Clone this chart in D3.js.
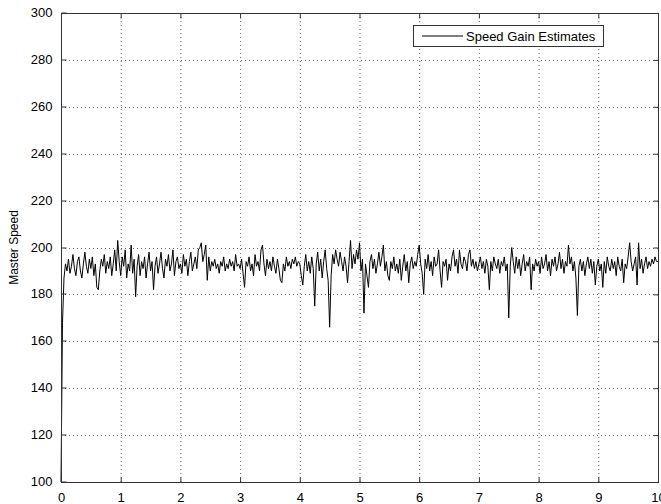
<!DOCTYPE html>
<html><head><meta charset="utf-8">
<script src="https://cdn.jsdelivr.net/npm/d3@7/dist/d3.min.js"></script>
<style>body{margin:0;background:#fff}svg{display:block}text{font-family:"Liberation Sans",Arial,sans-serif}</style>
</head><body><svg id="c" width="661" height="504"></svg>
<script>
const timeStep = 0.025;
const speedGain = [
100,168,187,193,190,195,189,192,197,191,188,194,196,190,187,193,198,192,189,195,
191,196,188,193,183,182,190,195,192,197,189,194,191,196,188,193,199,190,203,194,
188,196,192,199,187,193,190,201,189,195,179,192,197,188,194,191,196,187,193,198,
190,194,182,192,196,189,193,198,191,187,195,192,197,190,193,199,188,194,196,191,
193,189,197,192,195,188,194,198,190,193,196,191,199,200,202,194,197,201,186,196,
190,194,192,195,191,193,189,194,192,196,190,193,191,195,192,194,190,197,192,193,
191,195,189,183,194,192,196,190,193,188,197,192,194,190,199,201,193,188,195,191,
194,190,196,192,189,195,191,186,185,193,190,196,192,194,191,195,193,196,192,194,
193,188,184,192,197,190,194,189,196,191,175,193,198,190,195,187,194,199,191,186,
166,188,197,193,199,195,192,198,194,190,196,192,185,194,203,191,197,193,199,195,
202,190,195,172,193,188,183,194,197,191,195,189,193,198,192,196,201,190,194,188,
186,194,191,196,190,193,189,195,186,192,197,190,194,185,193,196,191,194,192,197,
201,193,189,180,195,191,197,190,194,188,196,192,193,199,190,183,194,192,195,186,
193,190,196,199,192,195,189,199,193,191,196,194,190,197,199,192,195,191,194,190,
193,196,191,194,189,195,192,182,194,190,196,193,191,195,189,194,192,196,190,193,
170,192,200,194,189,196,191,195,188,193,197,190,194,192,196,182,193,190,195,192,
194,189,196,191,193,197,190,194,188,195,192,196,190,193,198,191,195,189,194,192,
201,193,196,190,194,187,171,192,195,190,194,188,193,196,191,195,189,194,184,192,
195,190,193,183,194,189,196,192,190,195,191,194,188,196,192,190,195,185,193,191,
196,202,194,190,193,196,184,202,191,195,189,193,196,191,194,192,195,193,196,194,
194];
const xTicks = [0,1,2,3,4,5,6,7,8,9,10];
const yTicks = [100,120,140,160,180,200,220,240,260,280,300];
const seriesName = "Speed Gain Estimates";
const yLabel = "Master Speed";

const svg = d3.select("#c");
const L = 61, R = 658, T = 13, B = 482;
const x = d3.scaleLinear().domain([0,10]).range([L,R]);
const y = d3.scaleLinear().domain([100,300]).range([B,T]);

// grid
const g = svg.append("g");
g.selectAll("line.gx").data(xTicks.slice(1,-1)).join("line")
  .attr("x1",d=>x(d)+0.5).attr("x2",d=>x(d)+0.5).attr("y1",T).attr("y2",B)
  .attr("stroke","#666").attr("stroke-dasharray","1,3");
g.selectAll("line.gy").data(yTicks.slice(1,-1)).join("line")
  .attr("y1",d=>Math.round(y(d))+0.5).attr("y2",d=>Math.round(y(d))+0.5).attr("x1",L).attr("x2",R)
  .attr("stroke","#666").attr("stroke-dasharray","1,3");

// data line
const data = speedGain.map((v,i)=>[i*timeStep, v]);
svg.append("path").datum(data)
  .attr("d", d3.line().x(d=>x(d[0])).y(d=>y(d[1])))
  .attr("fill","none").attr("stroke","#000").attr("stroke-width",1);

// frame
svg.append("rect").attr("x",L+0.5).attr("y",T+0.5).attr("width",R-L).attr("height",B-T)
  .attr("fill","none").attr("stroke","#333").attr("stroke-width",1);

// axes (ticks inward)
const ax = svg.append("g").attr("transform",`translate(0,${B+0.5})`)
  .call(d3.axisBottom(x).tickValues(xTicks).tickSize(-5).tickPadding(10).tickFormat(d3.format("d")));
const axT = svg.append("g").attr("transform",`translate(0,${T+0.5})`)
  .call(d3.axisTop(x).tickValues(xTicks).tickSize(-5).tickFormat(""));
const ay = svg.append("g").attr("transform",`translate(${L+0.5},0)`)
  .call(d3.axisLeft(y).tickValues(yTicks).tickSize(-5).tickPadding(9).tickFormat(d3.format("d")));
const ayR = svg.append("g").attr("transform",`translate(${R+0.5},0)`)
  .call(d3.axisRight(y).tickValues(yTicks).tickSize(-5).tickFormat(""));
[ax,axT,ay,ayR].forEach(a=>{
  a.select(".domain").remove();
  a.selectAll(".tick line").attr("stroke","#333");
  a.selectAll("text").attr("font-size",13).attr("fill","#000")
   .attr("font-family","'Liberation Sans',Arial,sans-serif");
});
ay.selectAll(".tick").attr("transform",d=>`translate(0,${Math.round(y(d))})`);

svg.append("text").attr("transform",`translate(18,${(T+B)/2}) rotate(-90)`)
  .attr("text-anchor","middle").attr("font-size",12).text(yLabel);

// legend
const lg = svg.append("g");
lg.append("rect").attr("x",413.5).attr("y",25.5).attr("width",190).attr("height",21)
  .attr("fill","#fff").attr("stroke","#333");
lg.append("line").attr("x1",422).attr("x2",463).attr("y1",36).attr("y2",36).attr("stroke","#000");
lg.append("text").attr("x",466).attr("y",40.5).attr("font-size",13).text(seriesName);
</script></body></html>
